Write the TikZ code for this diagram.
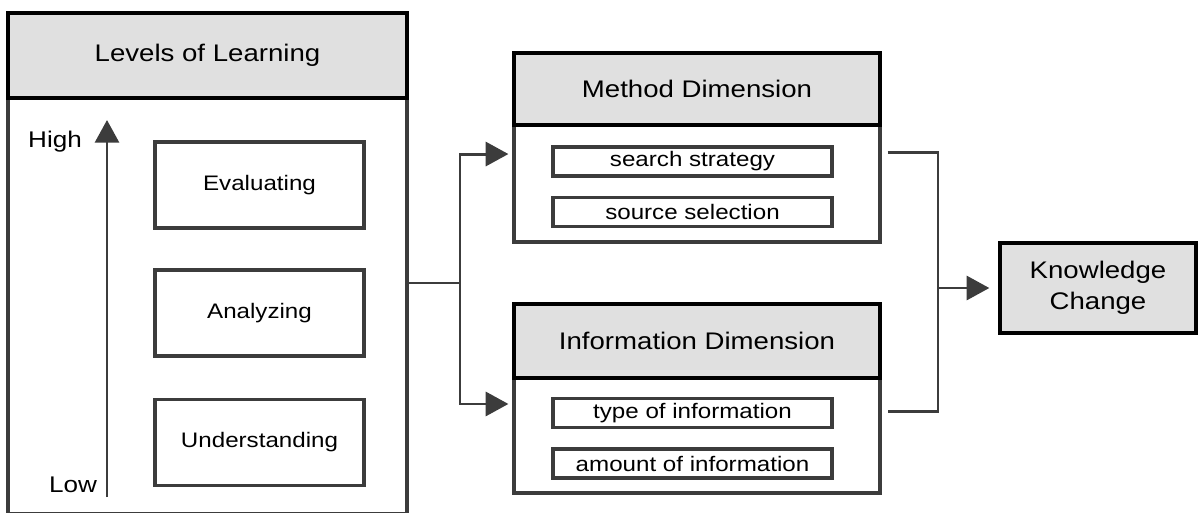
\documentclass[tikz,border=0pt]{standalone}
\usepackage{fontspec}
\setmainfont{Liberation Sans}[FakeStretch=1.15]
\usetikzlibrary{arrows.meta}
\definecolor{hdrgray}{HTML}{E0E0E0}
\definecolor{linegray}{HTML}{3C3C3C}

\begin{document}
\begin{tikzpicture}[x=0.75pt, y=-0.75pt,
	bodybox/.style={draw=linegray, line width=2.4pt, fill=white, inner sep=0pt},
	hdr/.style={draw=black, line width=2.5pt, fill=hdrgray, inner sep=0pt, font=\fontsize{18}{23}\selectfont},
	lvl/.style={draw=linegray, line width=2.4pt, inner sep=0pt, minimum width=156.75pt, minimum height=64.5pt, font=\fontsize{15.75}{19}\selectfont},
	item/.style={draw=linegray, line width=2.4pt, inner sep=0pt, minimum width=209.25pt, minimum height=21.75pt, font=\fontsize{15.75}{19}\selectfont},
	link/.style={draw=linegray, line width=2.2pt},
	arr/.style={link, -{Triangle[length=17pt, width=18pt]}}]
		\useasboundingbox (0,0) rectangle (1198,512);

		% Draw the levels of learning
		\node[bodybox, minimum width=299.25pt, minimum height=375.75pt] (lolbody) at (207.5,263.5) {};
		\node[hdr, minimum width=299.25pt, minimum height=63.75pt] (lolhead) at (207.5,55.5) {Levels of Learning};
		\node[lvl] (eval) at (259.5,185) {Evaluating};
		\node[lvl] (anal) at (259.5,313) {Analyzing};
		\node[lvl] (under) at (259.5,442.5) {Understanding};

		\coordinate (lowend) at (107,497);
		\coordinate (highend) at (107,120);
		\draw[arr] (lowend) -- (highend);
		\node[font=\fontsize{17}{20}\selectfont] (high) at (55,142) {High};
		\node[font=\fontsize{17}{20}\selectfont] (low) at (73,485) {Low};

		% Draw the two dimensions
		\node[bodybox, minimum width=274.5pt, minimum height=141.75pt] (methbody) at (697,147.5) {};
		\node[hdr, minimum width=274.5pt, minimum height=54pt] (methhead) at (697,89) {Method Dimension};
		\node[item] (search) at (692.5,161.5) {search strategy};
		\node[item] (source) at (692.5,212) {source selection};

		\node[bodybox, minimum width=274.5pt, minimum height=141.75pt] (infobody) at (697,398.5) {};
		\node[hdr, minimum width=274.5pt, minimum height=55.5pt] (infohead) at (697,341) {Information Dimension};
		\node[item] (type) at (692.5,413) {type of information};
		\node[item] (amount) at (692.5,463.5) {amount of information};

		% Draw the outcome
		\node[hdr, minimum width=147pt, minimum height=67.5pt, align=center] (know) at (1098,288) {Knowledge\\Change};

		% Draw the connectors
		\coordinate (split) at (460,283);
		\coordinate (merge) at (938,288);
		\draw[link] (lolbody.east |- split) -- (split);
		\draw[arr, shorten >=3pt] (split) |- ([yshift=-4.9pt]methbody.west);
		\draw[arr, shorten >=3pt] (split) |- ([yshift=-4.1pt]infobody.west);
		\draw[link, shorten <=4.5pt, shorten >=4.5pt] ([yshift=-3.4pt]methbody.east) -| (merge) |- ([yshift=-9.4pt]infobody.east);
		\draw[arr, shorten >=6.75pt] (merge) -- (know);

	\end{tikzpicture}
\end{document}
